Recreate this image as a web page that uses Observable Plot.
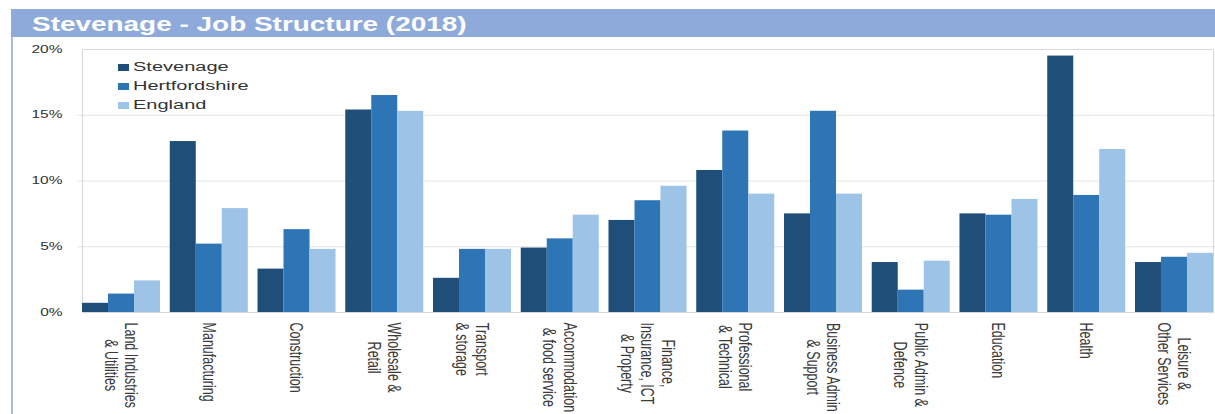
<!DOCTYPE html>
<html><head><meta charset="utf-8">
<script src="https://cdn.jsdelivr.net/npm/d3@7"></script>
<script src="https://cdn.jsdelivr.net/npm/@observablehq/plot@0.6"></script>
<style>
body{margin:0;width:1215px;height:414px;overflow:hidden;background:#fff;font-family:"Liberation Sans",Arial,sans-serif;position:relative}
#box{position:absolute;left:11px;top:9px;width:1215px;height:420px;border-left:2px solid #a4b9e4}
#title{position:absolute;left:11px;top:9px;width:1215px;height:28px;background:#8eaadb}
#title span{position:absolute;left:21px;top:0;line-height:29px;color:#fff;font-weight:bold;font-size:21px;transform:scaleX(1.33);transform-origin:0 50%;white-space:nowrap}
#chart{position:absolute;left:0;top:37px}
#legend{position:absolute;left:0;top:0}
.lg{position:absolute;left:118px;height:16px;display:flex;align-items:center;white-space:nowrap}
.lg i{display:inline-block;width:11px;height:7px;margin-right:4px}
.lg span{font-size:12.5px;color:#333;transform:scaleX(1.6);transform-origin:0 50%}
</style></head>
<body>
<div id="box"></div>
<div id="title"><span>Stevenage - Job Structure (2018)</span></div>
<div id="chart"></div>
<div id="legend"></div>
<script>
const categories = ["Land Industries\n& Utilities", "Manufacturing", "Construction", "Wholesale &\nRetail", "Transport\n& storage", "Accommodation\n& food service", "Finance,\nInsurance, ICT\n& Property", "Professional\n& Technical", "Business Admin\n& Support", "Public Admin &\nDefence", "Education", "Health", "Leisure &\nOther Services"];
const series = ["Stevenage", "Hertfordshire", "England"];
const colors = ["#1f4e79", "#2e75b6", "#9dc3e6"];
const stevenage = [0.7, 13.0, 3.3, 15.4, 2.6, 4.9, 7.0, 10.8, 7.5, 3.8, 7.5, 19.5, 3.8];
const hertfordshire = [1.4, 5.2, 6.3, 16.5, 4.8, 5.6, 8.5, 13.8, 15.3, 1.7, 7.4, 8.9, 4.2];
const england = [2.4, 7.9, 4.8, 15.3, 4.8, 7.4, 9.6, 9.0, 9.0, 3.9, 8.6, 12.4, 4.5];
const yTicks = [0, 5, 10, 15, 20];

const values = [stevenage, hertfordshire, england];
const rows = categories.flatMap((c, i) => series.map((s, j) => ({category: c, series: s, value: values[j][i]})));

const labelFont = 12.5;
const ctx = document.createElement("canvas").getContext("2d");
ctx.font = `${labelFont}px "Liberation Sans"`;
const labelLen = c => d3.max(c.split("\n"), l => ctx.measureText(l).width);

const chart = Plot.plot({
  width: 1215, height: 377,
  marginTop: 12, marginBottom: 102, marginLeft: 80, marginRight: 0,
  style: {fontFamily: "'Liberation Sans', Arial, sans-serif", background: "transparent", color: "#333"},
  fx: {domain: categories, paddingInner: 0.111, paddingOuter: 0.023, round: false, axis: null},
  x: {domain: series, padding: 0, round: false, axis: null},
  y: {domain: [0, 20], ticks: yTicks, tickFormat: d => d + "%", tickSize: 0, tickPadding: 20, label: null, fontSize: 10},
  color: {domain: series, range: colors},
  marks: [
    Plot.ruleY(yTicks.slice(1, -1), {stroke: "#e4e4e4", insetLeft: -4.9, insetRight: -4.9}),
    Plot.frame({facet: "super", stroke: "#d8d8d8"}),
    Plot.barY(rows, {fx: "category", x: "series", y: "value", fill: "series"}),
    ...categories.map(c => Plot.text([c], {
      fx: d => d, text: d => d, frameAnchor: "bottom", rotate: 90,
      textAnchor: "middle", lineAnchor: "middle", lineHeight: 1.1,
      fontSize: labelFont, fill: "#3a3a3a", dy: 10 + labelLen(c) / 2
    }))
  ]
});
document.getElementById("chart").append(chart);

// horizontal stretch of texts as in the reference image
chart.querySelectorAll('g[aria-label="text"] text').forEach(t => {
  t.setAttribute("transform", (t.getAttribute("transform") || "") + " scale(1,1.5)");
});
chart.querySelectorAll('g[aria-label="y-axis tick label"] text').forEach(t => {
  t.setAttribute("transform", (t.getAttribute("transform") || "") + " scale(1.55,1)");
});

const legend = document.getElementById("legend");
series.forEach((s, i) => {
  const d = document.createElement("div");
  d.className = "lg";
  d.style.top = (59 + i * 19) + "px";
  d.innerHTML = `<i style="background:${colors[i]}"></i><span>${s}</span>`;
  legend.append(d);
});
</script>
</body></html>
